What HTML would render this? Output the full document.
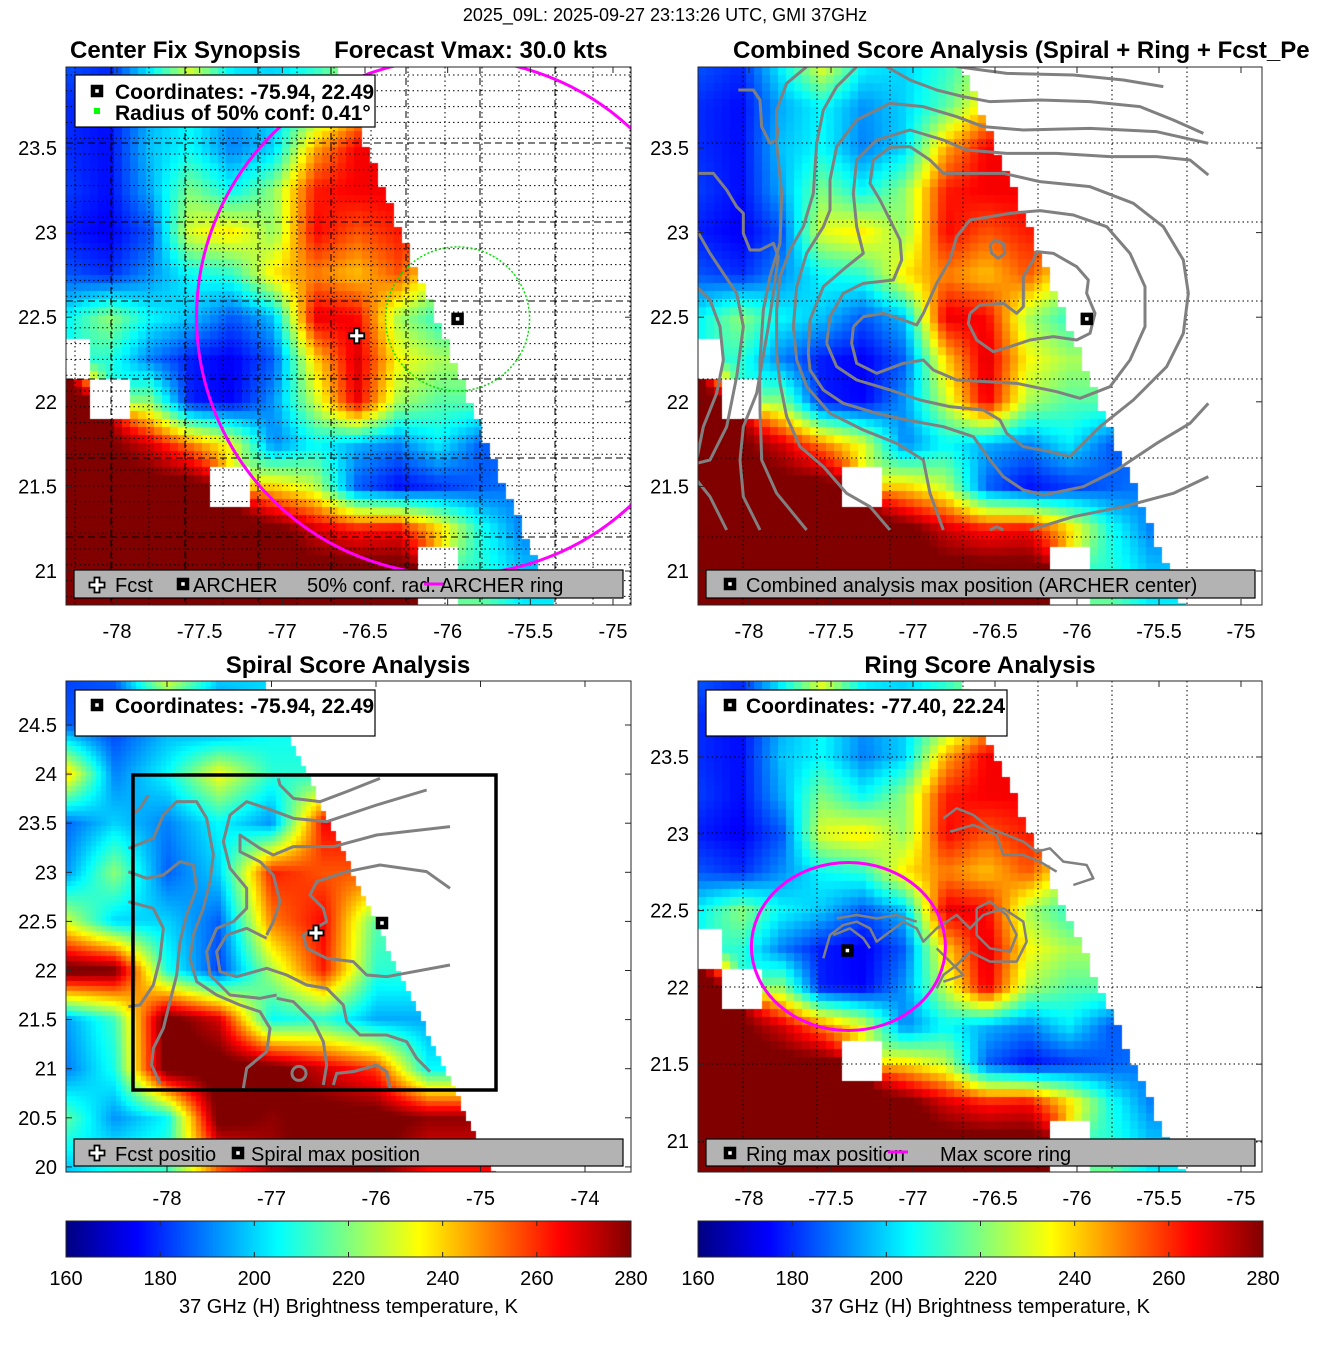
<!DOCTYPE html>
<html><head><meta charset="utf-8">
<style>
html,body{margin:0;padding:0;background:#fff;}
#wrap{position:relative;width:1317px;height:1350px;overflow:hidden;font-family:"Liberation Sans",sans-serif;}
canvas,svg{position:absolute;left:0;top:0;}
</style></head>
<body>
<div id="wrap">
<canvas id="cv" width="1317" height="1350"></canvas>
<svg id="sv" width="1317" height="1350" xmlns="http://www.w3.org/2000/svg"></svg>
</div>
<script>
const N = null;
// Main field (panels 1, 2, 4): lon columns, lat rows, brightness temperature (K)
const fieldLons = [-78.3,-78.05,-77.8,-77.55,-77.3,-77.05,-76.8,-76.55,-76.3,-76.05,-75.8,-75.55,-75.3,-75.05];
const fieldLats = [24,23.75,23.5,23.25,23,22.75,22.5,22.25,22,21.75,21.5,21.25,21,20.8];
const fieldTb = [
[185,180,205,235,205,200,210,225,225,225,225,225,225,225],
[180,176,195,205,192,200,215,240,258,258,258,258,258,258],
[180,176,198,205,190,200,245,266,266,266,266,266,266,266],
[182,176,195,220,205,222,262,266,266,266,266,266,266,266],
[178,174,185,232,238,222,265,255,262,262,262,262,262,262],
[185,180,192,205,210,238,250,242,255,230,230,230,230,230],
[205,222,205,198,185,198,268,265,225,210,210,210,210,210],
[N,210,190,178,174,186,240,270,235,225,225,225,225,225],
[285,N,222,178,175,193,228,268,225,215,215,215,215,215],
[285,282,270,250,232,190,205,196,190,203,186,186,186,186],
[285,285,285,285,N,240,228,186,176,181,186,190,190,190],
[285,285,285,285,285,285,270,262,265,240,208,190,190,190],
[285,285,285,285,285,285,285,285,285,N,210,198,198,198],
[285,285,285,285,285,285,285,285,285,N,220,205,205,205]
];
// Spiral panel field (panel 3)
const spiralLons = [-79,-78.5,-78,-77.5,-77,-76.5,-76,-75.5,-75,-74.5,-74];
const spiralLats = [25,24.5,24,23.5,23,22.5,22,21.5,21,20.5,20];
const spiralTb = [
[182,186,235,200,200,200,200,200,200,200,200],
[186,182,195,188,205,205,205,205,205,205,205],
[245,190,205,235,210,210,210,210,210,210,210],
[186,200,190,205,192,265,265,265,265,265,265],
[190,222,186,200,262,255,255,255,255,255,255],
[232,200,200,186,250,265,215,215,215,215,215],
[285,282,208,182,225,262,210,210,210,210,210],
[192,212,285,270,205,210,195,195,195,195,195],
[188,208,285,285,285,270,258,205,205,205,205],
[218,192,205,285,278,285,285,278,278,278,278],
[198,208,212,255,275,285,282,265,265,265,265]
];
const cbTicks = [160,180,200,220,240,260,280];
const p1XTicks = [-78,-77.5,-77,-76.5,-76,-75.5,-75];
const p1YTicks = [23.5,23,22.5,22,21.5,21];
const p3XTicks = [-78,-77,-76,-75,-74];
const p3YTicks = [24.5,24,23.5,23,22.5,22,21.5,21,20.5,20];
const archer = [-75.94,22.49];
const fcst = [-76.55,22.39];
const ringCenter = [-77.40,22.24];

function jet(v){
  let t=(v-160)/120; t=Math.max(0,Math.min(1,t));
  const c=x=>Math.round(255*Math.max(0,Math.min(1,x)));
  return [c(1.5-Math.abs(4*t-3)),c(1.5-Math.abs(4*t-2)),c(1.5-Math.abs(4*t-1))];
}
const P = {
 p1:{x0:66,y0:67,x1:631,y1:605,fx:l=>117+(l+78)*165.33,fy:a=>148+(23.5-a)*169.2},
 p2:{x0:698,y0:67,x1:1262,y1:605,fx:l=>749+(l+78)*164,fy:a=>148+(23.5-a)*169.2},
 p3:{x0:66,y0:681,x1:631,y1:1172,fx:l=>167+(l+78)*104.5,fy:a=>725+(24.5-a)*98.2},
 p4:{x0:698,y0:681,x1:1262,y1:1172,fx:l=>749+(l+78)*164,fy:a=>757+(23.5-a)*153.6}
};
P.p1.ix=x=>(x-117)/165.33-78; P.p1.iy=y=>23.5-(y-148)/169.2;
P.p2.ix=x=>(x-749)/164-78;    P.p2.iy=y=>23.5-(y-148)/169.2;
P.p3.ix=x=>(x-167)/104.5-78;  P.p3.iy=y=>24.5-(y-725)/98.2;
P.p4.ix=x=>(x-749)/164-78;    P.p4.iy=y=>23.5-(y-757)/153.6;

function sample(lons,lats,tb,lon,lat){
  const dl=lons[1]-lons[0], da=lats[0]-lats[1];
  let fi=(lon-lons[0])/dl, fj=(lats[0]-lat)/da;
  fi=Math.max(0,Math.min(lons.length-1,fi)); fj=Math.max(0,Math.min(lats.length-1,fj));
  const ni=Math.round(fi), nj=Math.round(fj);
  if(tb[nj][ni]===null) return null;
  const i0=Math.floor(fi), j0=Math.floor(fj), i1=Math.min(i0+1,lons.length-1), j1=Math.min(j0+1,lats.length-1);
  const u=fi-i0, w=fj-j0; let s=0, ws=0;
  [[i0,j0,(1-u)*(1-w)],[i1,j0,u*(1-w)],[i0,j1,(1-u)*w],[i1,j1,u*w]].forEach(([i,j,k])=>{const v=tb[j][i]; if(v!==null){s+=v*k;ws+=k;}});
  return ws>0? s/ws : null;
}
const cv=document.getElementById('cv'), ctx=cv.getContext('2d');
function drawField(p,lons,lats,tb,edge,cell){
  for(let y=p.y0;y<p.y1;y+=cell){
    for(let x=p.x0;x<p.x1;x+=cell){
      const lon=p.ix(x+cell/2), lat=p.iy(y+cell/2);
      if(lon>edge(lat)) continue;
      const v=sample(lons,lats,tb,lon,lat);
      if(v===null) continue;
      const c=jet(v); ctx.fillStyle=`rgb(${c[0]},${c[1]},${c[2]})`;
      ctx.fillRect(x,y,Math.min(cell,p.x1-x),Math.min(cell,p.y1-y));
    }
  }
}
const edgeMain = lat=>-76.69+(23.98-lat)*0.418;
const edgeSpiral = lat=>-77.08+(24.95-lat)*0.44;
drawField(P.p1,fieldLons,fieldLats,fieldTb,edgeMain,8);
drawField(P.p2,fieldLons,fieldLats,fieldTb,edgeMain,8);
drawField(P.p4,fieldLons,fieldLats,fieldTb,edgeMain,8);
drawField(P.p3,spiralLons,spiralLats,spiralTb,edgeSpiral,5);

const NS='http://www.w3.org/2000/svg', sv=document.getElementById('sv');
function el(tag,attrs,parent){const e=document.createElementNS(NS,tag);for(const k in attrs)e.setAttribute(k,attrs[k]);(parent||sv).appendChild(e);return e;}
function txt(s,x,y,attrs,parent){const e=el('text',Object.assign({x:x,y:y,'font-family':'Liberation Sans, sans-serif','font-size':20,fill:'#000'},attrs||{}),parent);e.textContent=s;return e;}
const defs=el('defs',{});
['p1','p2','p3','p4'].forEach(k=>{const p=P[k];const cp=el('clipPath',{id:'clip-'+k},defs);el('rect',{x:p.x0,y:p.y0,width:p.x1-p.x0,height:p.y1-p.y0},cp);});
const grad=el('linearGradient',{id:'jetg',x1:0,y1:0,x2:1,y2:0},defs);
[[0,'#000080'],[0.125,'#0000ff'],[0.375,'#00ffff'],[0.625,'#ffff00'],[0.875,'#ff0000'],[1,'#800000']].forEach(([o,c])=>el('stop',{offset:o,'stop-color':c},grad));

function sqMarker(x,y,g,name){const m=el('rect',{x:x-4,y:y-4,width:8,height:8,fill:'#fff',stroke:'#000','stroke-width':4.5},g);return m;}
function plusMarker(x,y,g,name){const m=el('path',{d:`M${x-2.5},${y-7.5}h5v5h5v5h-5v5h-5v-5h-5v-5h5z`,fill:'#fff',stroke:'#000','stroke-width':1.8},g);return m;}

let t=txt('2025_09L: 2025-09-27 23:13:26 UTC, GMI 37GHz',665,21,{'text-anchor':'middle','font-size':18});

t=txt('Center Fix Synopsis     Forecast Vmax: 30.0 kts',70,58,{'font-weight':'bold','font-size':24});

t.style.whiteSpace='pre';
t=txt('Combined Score Analysis (Spiral + Ring + Fcst_Pe',733,58,{'font-weight':'bold','font-size':24});

t=txt('Spiral Score Analysis',348,673,{'font-weight':'bold','font-size':24,'text-anchor':'middle'});

t=txt('Ring Score Analysis',980,673,{'font-weight':'bold','font-size':24,'text-anchor':'middle'});


function grid(k,xs,ys,dash){const p=P[k];const g=el('g',{'clip-path':`url(#clip-${k})`,stroke:'#000','stroke-width':1,'stroke-dasharray':dash,fill:'none'});
 xs.forEach(x=>el('line',{x1:x,y1:p.y0,x2:x,y2:p.y1},g)); ys.forEach(y=>el('line',{x1:p.x0,y1:y,x2:p.x1,y2:y},g));}
const gx=[743,817,890,963,1038,1112,1187], gy=[143,222,301,379,458,537];
grid('p1',gx.map(x=>x-632),gy,'7,4');
const fineY=[];for(let y=75;y<605;y+=15.8)fineY.push(y);
grid('p1',[],fineY,'1.5,3');
const fineX=[];for(let x=75;x<631;x+=37)fineX.push(x);
grid('p1',fineX,[],'1.5,3');
grid('p2',gx,gy,'1.5,3');
grid('p4',gx,[757,833,910,987,1064,1142],'1.5,3');

const g1=el('g',{'clip-path':'url(#clip-p1)'});
let c=el('circle',{cx:P.p1.fx(archer[0])-3,cy:P.p1.fy(archer[1])-2,r:258,fill:'none',stroke:'#ff00ff','stroke-width':3},g1);

c=el('circle',{cx:P.p1.fx(archer[0]),cy:P.p1.fy(archer[1]),r:72,fill:'none',stroke:'#00e000','stroke-width':1.5,'stroke-dasharray':'2,2'},g1);

sqMarker(P.p1.fx(archer[0]),P.p1.fy(archer[1]),g1,'archer-marker');
plusMarker(P.p1.fx(fcst[0]),P.p1.fy(fcst[1]),g1,'fcst-marker');

function poly(pts,ox,oy,g,w){return el('polyline',{points:pts.map(p=>`${ox+p[0]/3},${oy+p[1]/3}`).join(' '),fill:'none',stroke:'#808080','stroke-width':w||3,'stroke-linejoin':'round'},g);}
const g2=el('g',{'clip-path':'url(#clip-p2)'});
const c2=[
[[490,800],[520,770],[580,760],[640,780],[680,795],[700,760],[740,670],[780,600],[800,530],[840,480],[960,460],[1050,452],[1150,465],[1250,500],[1320,580],[1365,680],[1365,800],[1320,900],[1260,980],[1170,1015],[1100,995],[980,970],[800,960],[730,930],[700,900],[640,910],[560,940],[500,910],[485,850],[490,800]],
[[840,760],[870,735],[940,730],[980,760],[1000,740],[1000,650],[1030,600],[1040,575],[1090,580],[1160,620],[1195,660],[1190,700],[1215,760],[1200,820],[1160,840],[1090,830],[1020,840],[960,860],[910,875],[860,840],[835,790],[840,760]],
[[900,555],[915,540],[940,550],[945,580],[925,595],[905,580],[900,555]],
[[410,850],[420,770],[460,700],[520,670],[610,660],[635,600],[630,540],[600,480],[570,420],[540,370],[550,300],[600,262],[660,260],[720,300],[760,340],[850,340],[940,340],[1050,365],[1200,380],[1330,430],[1420,500],[1480,600],[1495,700],[1480,820],[1430,920],[1330,1020],[1230,1100],[1140,1190],[1080,1175],[1000,1160],[950,1120],[930,1080],[880,1050],[780,1040],[690,1020],[600,990],[500,960],[440,920],[410,850]],
[[1555,345],[1500,300],[1400,290],[1260,290],[1100,280],[950,280],[830,270],[760,240],[660,210],[560,240],[500,300],[490,400],[500,500],[520,580],[470,620],[400,680],[360,780],[355,880],[360,930],[400,990],[460,1030],[560,1060],[650,1080],[760,1100],[850,1130],[900,1200],[940,1250],[1000,1290],[1060,1305],[1180,1280],[1280,1230],[1400,1150],[1500,1090],[1555,1030]],
[[1555,250],[1400,215],[1200,205],[1000,210],[880,200],[800,170],[700,140],[600,130],[500,180],[440,260],[420,360],[420,450],[400,500],[350,580],[320,680],[310,800],[320,900],[350,980],[420,1060],[520,1110],[620,1150],[700,1200],[720,1300],[760,1410]],
[[1555,1250],[1450,1300],[1300,1340],[1150,1370],[1020,1410]],
[[1420,80],[1300,60],[1150,45],[950,40],[800,20]],
[[1540,220],[1450,180],[1350,140],[1200,125],[1050,120],[900,125],[820,110],[740,90],[660,60],[590,20]],
[[500,20],[440,80],[400,150],[380,250],[370,400],[340,500],[300,570],[270,650],[260,750],[260,880],[270,970],[290,1070],[330,1160],[400,1220],[470,1300],[540,1340],[600,1410]],
[[350,20],[290,70],[260,150],[260,250],[275,400],[270,550],[240,650],[220,750],[210,900],[210,1050],[215,1200],[260,1300],[350,1410]],
[[145,90],[190,90],[210,120],[215,200],[240,250],[260,240],[265,200]],
[[20,340],[70,340],[110,390],[140,440],[160,460],[160,520],[180,570],[210,570],[250,550],[265,590],[250,700],[235,800],[200,1000],[160,1100],[150,1200],[160,1310],[210,1410]],
[[20,510],[60,580],[100,640],[140,700],[160,800],[140,950],[110,1100],[60,1200],[20,1210]],
[[20,680],[60,720],[90,800],[100,900],[80,1000],[40,1100],[20,1200]],
[[20,1260],[60,1310],[110,1410]],
[[900,1410],[920,1400],[940,1410]]
];
c2.forEach(pts=>poly(pts,690,60,g2));
sqMarker(P.p2.fx(archer[0]),P.p2.fy(archer[1]),g2,'combined-max-marker');

const g3=el('g',{'clip-path':'url(#clip-p3)'});
const c3=[
[[1100,345],[950,390],[800,440],[700,430],[620,400],[560,380],[510,420],[490,500],[510,580],[560,640],[560,700],[520,740],[470,760],[440,830],[450,900],[510,960],[600,970],[650,960]],
[[1170,455],[950,480],[820,515],[700,515],[640,540],[600,520],[540,480],[540,530],[600,560],[640,600],[660,680],[640,740],[620,780]],
[[1170,640],[1100,590],[960,570],[860,590],[770,620],[750,660],[790,700],[800,740],[730,780],[740,820],[800,850],[880,860],[920,900],[980,905],[1170,870]],
[[960,310],[860,350],[780,380],[700,370],[660,330],[655,310]],
[[265,360],[240,400],[215,420]],
[[205,520],[280,490],[310,420],[350,380],[410,380],[440,430],[460,540],[450,620],[430,700],[400,780],[390,850],[410,920],[470,960],[540,990],[600,1010],[630,1060],[620,1130],[560,1180],[550,1240]],
[[205,590],[260,610],[310,600],[360,560],[400,570],[410,640],[380,720],[360,800],[350,900],[330,980],[310,1060],[280,1120],[275,1170],[300,1225]],
[[205,680],[280,700],[310,760],[300,850],[280,930],[240,990],[205,995]],
[[620,790],[560,760],[500,780],[470,830],[480,890],[530,905],[620,880],[680,900],[740,930],[800,940],[850,990],[860,1040],[900,1080],[980,1080],[1040,1100],[1070,1150],[1110,1190]],
[[790,1230],[800,1170],[790,1100],[760,1040],[700,980],[650,970]],
[[820,1230],[830,1195],[880,1190],[950,1170],[980,1190],[990,1240]]
];
c3.forEach(pts=>poly(pts,60,675,g3));
el('circle',{cx:60+717/3,cy:675+1195/3,r:7,fill:'none',stroke:'#808080','stroke-width':3},g3);
let box=el('rect',{x:133,y:775,width:363,height:315,fill:'none',stroke:'#000','stroke-width':3.5},g3);

sqMarker(382,923,g3,'spiral-max-marker');
plusMarker(316,933,g3,'fcst-position-marker');

const g4=el('g',{'clip-path':'url(#clip-p4)'});
const c4=[
[[400,850],[420,780],[460,750],[500,740],[540,760],[560,800],[600,770],[640,740],[680,760],[700,800],[740,760],[800,720],[840,760],[880,720],[940,700],[1000,740],[1010,800],[980,860],[900,860],[840,830],[800,870],[760,900],[740,940]],
[[440,730],[500,720],[560,730],[620,720],[680,740]],
[[430,780],[480,760],[520,790],[540,820]],
[[760,430],[800,400],[850,420],[900,460],[950,480],[1000,500],[1040,530],[1080,520],[1120,560],[1190,570],[1210,610],[1150,630]],
[[780,470],[850,450],[920,480],[940,540],[1000,540],[1050,560],[1100,590]],
[[860,700],[900,680],[950,720],[980,780],[960,830],[900,820],[860,780],[860,700]],
[[740,820],[780,860],[820,900],[760,920]]
];
c4.forEach(pts=>poly(pts,690,675,g4,2.5));
c=el('ellipse',{cx:P.p4.fx(ringCenter[0])+1,cy:P.p4.fy(ringCenter[1])-4,rx:97,ry:84,fill:'none',stroke:'#ff00ff','stroke-width':3},g4);

sqMarker(P.p4.fx(ringCenter[0]),P.p4.fy(ringCenter[1]),g4,'ring-max-marker');

function axes(k,xt,yt){
  const p=P[k];
  const g=el('g',{});
  el('rect',{x:p.x0,y:p.y0,width:p.x1-p.x0,height:p.y1-p.y0,fill:'none',stroke:'#262626','stroke-width':1},g);
  xt.forEach(v=>{const x=p.fx(v);el('line',{x1:x,y1:p.y1,x2:x,y2:p.y1-6,stroke:'#262626'},g);el('line',{x1:x,y1:p.y0,x2:x,y2:p.y0+6,stroke:'#262626'},g);
    const l=txt(String(v),x,p.y1+33,{'text-anchor':'middle'},g);});
  yt.forEach(v=>{const y=p.fy(v);el('line',{x1:p.x0,y1:y,x2:p.x0+6,y2:y,stroke:'#262626'},g);el('line',{x1:p.x1,y1:y,x2:p.x1-6,y2:y,stroke:'#262626'},g);
    const l=txt(String(v),p.x0-9,y+7,{'text-anchor':'end'},g);});
}
axes('p1',p1XTicks,p1YTicks);axes('p2',p1XTicks,p1YTicks);axes('p3',p3XTicks,p3YTicks);axes('p4',p1XTicks,p1YTicks);

function legendBox(x,y,w,h,fill,name){const r=el('rect',{x:x,y:y,width:w,height:h,fill:fill,stroke:'#000','stroke-width':1.2});return r;}
legendBox(75,75,300,52,'#fff','panel1-legend');
sqMarker(97,91,sv,'legend-archer-marker');
txt('Coordinates: -75.94, 22.49',115,99,{'font-weight':'bold','font-size':21});
el('rect',{x:94,y:108,width:6,height:6,fill:'#00ff00'});
txt('Radius of 50% conf: 0.41°',115,120,{'font-weight':'bold','font-size':21});
legendBox(74,570,549,28,'#b3b3b3','panel1-bottom-legend');
plusMarker(97,585,sv,'legend-fcst-marker');
txt('Fcst',115,592);
sqMarker(183,584,sv,'legend-archer-marker');
txt('ARCHER',193,592);
txt('50% conf. rad.',307,592);
el('line',{x1:424,y1:584,x2:444,y2:584,stroke:'#ff00ff','stroke-width':3});
txt('ARCHER ring',440,592);

legendBox(706,570,549,28,'#b3b3b3','panel2-legend');
sqMarker(730,584,sv,'legend-combined-marker');
txt('Combined analysis max position (ARCHER center)',746,592);

legendBox(75,690,300,46,'#fff','panel3-legend');
sqMarker(97,705,sv,'legend-spiral-marker');
txt('Coordinates: -75.94, 22.49',115,713,{'font-weight':'bold','font-size':21});
legendBox(74,1139,549,27,'#b3b3b3','panel3-bottom-legend');
plusMarker(97,1153,sv,'legend-fcst-position-marker');
txt('Fcst positio',115,1161);
sqMarker(238,1153,sv,'legend-spiral-max-marker');
txt('Spiral max position',251,1161);

legendBox(706,690,301,46,'#fff','panel4-legend');
sqMarker(730,705,sv,'legend-ring-marker');
txt('Coordinates: -77.40, 22.24',746,713,{'font-weight':'bold','font-size':21});
legendBox(706,1139,549,27,'#b3b3b3','panel4-bottom-legend');
sqMarker(730,1153,sv,'legend-ring-max-marker');
txt('Ring max position',746,1161);
el('line',{x1:888,y1:1152,x2:908,y2:1152,stroke:'#ff00ff','stroke-width':3});
txt('Max score ring',940,1161);

function colorbar(x0,x1,name){
  const g=el('g',{});
  el('rect',{x:x0,y:1221,width:x1-x0,height:36,fill:'url(#jetg)',stroke:'#262626','stroke-width':1},g);
  cbTicks.forEach(v=>{const x=x0+(v-160)/120*(x1-x0);
    el('line',{x1:x,y1:1221,x2:x,y2:1226,stroke:'#262626'},g);el('line',{x1:x,y1:1257,x2:x,y2:1252,stroke:'#262626'},g);
    const l=txt(String(v),x,1285,{'text-anchor':'middle'},g);});
  const l=txt('37 GHz (H) Brightness temperature, K',(x0+x1)/2,1313,{'text-anchor':'middle'},g);
  
}
colorbar(66,631,'colorbar-left');
colorbar(698,1263,'colorbar-right');
</script>
</body></html>
